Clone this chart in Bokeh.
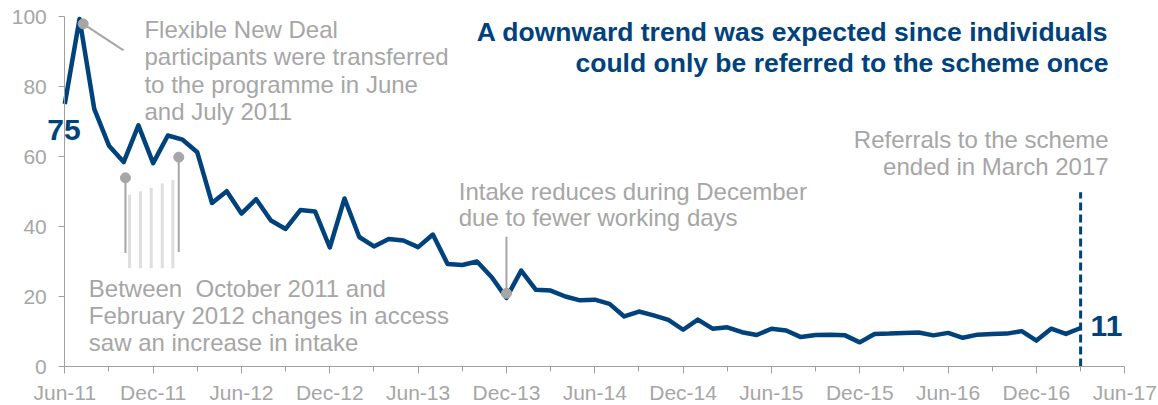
from bokeh.plotting import figure
from bokeh.models import Range1d, FixedTicker, Label
from bokeh.embed import file_html
from bokeh.resources import INLINE

# ---- data ----
tick_labels = ["Jun-11", "Dec-11", "Jun-12", "Dec-12", "Jun-13", "Dec-13", "Jun-14",
               "Dec-14", "Jun-15", "Dec-15", "Jun-16", "Dec-16", "Jun-17"]
tick_months = [0, 6, 12, 18, 24, 30, 36, 42, 48, 54, 60, 66, 72]
minor_months = [3, 9, 15, 21, 27, 33, 39, 45, 51, 57, 63, 69]
y_ticks = [0, 20, 40, 60, 80, 100]

month_index = list(range(70))  # Jun-11 ... Mar-17
referrals = [75.0, 99.3, 73.6, 63.1, 58.4, 68.9, 58.1, 66.0, 64.8, 61.2,
             46.7, 50.1, 43.7, 47.8, 41.7, 39.3, 44.7, 44.3, 34.0, 48.0,
             37.0, 34.3, 36.4, 36.0, 34.1, 37.7, 29.3, 29.0, 30.0, 25.5,
             19.6, 27.4, 21.9, 21.7, 20.0, 18.9, 19.1, 17.9, 14.3, 15.7,
             14.6, 13.3, 10.5, 13.4, 10.8, 11.2, 9.8, 9.0, 10.8, 10.3,
             8.4, 9.0, 9.1, 8.9, 6.9, 9.3, 9.4, 9.6, 9.7, 8.9,
             9.6, 8.2, 9.1, 9.3, 9.4, 10.1, 7.4, 10.8, 9.3, 11.0]
end_month = 69  # March 2017

title_lines = ["A downward trend was expected since individuals",
               "could only be referred to the scheme once"]
fnd_lines = ["Flexible New Deal", "participants were transferred",
             "to the programme in June", "and July 2011"]
access_lines = ["Between\u00a0 October 2011 and", "February 2012 changes in access",
                "saw an increase in intake"]
dec_lines = ["Intake reduces during December", "due to fewer working days"]
end_lines = ["Referrals to the scheme", "ended in March 2017"]

# ---- styles ----
BLUE = "#00427c"
GRAY = "#a6a6a6"
AXIS = "#a0a0a0"
LIGHT = "#dedede"
FONT = "Liberation Sans"

# frame covers the whole canvas; axes are pinned at x=0 / y=0 so nothing is clipped
X0 = -64.3 / 14.722
X1 = (1158 - 64.3) / 14.722
Y0 = -(405 - 366) / 3.5
Y1 = 366 / 3.5

p = figure(width=1158, height=405, x_range=Range1d(X0, X1), y_range=Range1d(Y0, Y1),
           output_backend="svg", toolbar_location=None,
           min_border_left=0, min_border_right=0, min_border_top=0, min_border_bottom=0)
p.xgrid.visible = False
p.ygrid.visible = False
p.outline_line_color = None
p.background_fill_color = "white"
p.border_fill_color = "white"

xa = p.xaxis[0]
xa.ticker = FixedTicker(ticks=tick_months, minor_ticks=minor_months)
xa.major_label_overrides = {m: l for m, l in zip(tick_months, tick_labels)}
xa.bounds = (0, 72)
xa.fixed_location = 0
ya = p.yaxis[0]
ya.ticker = FixedTicker(ticks=y_ticks)
ya.fixed_location = 0
ya.bounds = (0, 100)
for ax in (xa, ya):
    ax.axis_line_color = AXIS
    ax.axis_line_width = 1
    ax.major_tick_line_color = AXIS
    ax.minor_tick_line_color = AXIS
    ax.major_tick_in = 0
    ax.minor_tick_in = 0
    ax.major_label_text_color = GRAY
    ax.major_label_text_font = FONT
    ax.major_label_text_font_size = "21px"
xa.major_tick_out = 7
xa.minor_tick_out = 5
xa.major_label_standoff = 7
ya.major_tick_out = 6
ya.minor_tick_line_color = None
ya.major_label_standoff = 12

# main series
p.line(month_index, referrals, line_color=BLUE, line_width=4.5, line_join="round")

# end of referrals dashed line
p.segment(x0=[end_month], y0=[0], x1=[end_month], y1=[49.8],
          line_color=BLUE, line_width=3, line_dash="8 4")

# annotation furniture
p.segment(x0=[1.25], y0=[97.9], x1=[3.99], y1=[90.3], line_color=GRAY, line_width=2)
stripe_x = [4.4, 5.14, 5.87, 6.62, 7.34]
stripe_top = [49.1, 50.1, 51.1, 52.3, 53.3]
p.segment(x0=stripe_x, y0=[28.1] * 5, x1=stripe_x, y1=stripe_top,
          line_color=LIGHT, line_width=3)
p.segment(x0=[4.12, 7.74, 30.0], y0=[53.9, 59.8, 20.9], x1=[4.12, 7.74, 30.0],
          y1=[32.4, 32.7, 37.1], line_color=GRAY, line_width=2)
p.scatter([1.25, 4.12, 7.74, 30.0], [97.9, 53.9, 59.8, 20.9], size=10,
          fill_color=GRAY, line_color=GRAY)


def add_lines(lines, x, ys, color, size, align, shift, bold=False):
    for t, y in zip(lines, ys):
        p.add_layout(Label(x=x, y=y, text=t, text_color=color, text_font=FONT,
                           text_font_size=f"{size}px", text_align=align,
                           text_baseline="alphabetic", y_offset=shift,
                           text_font_style="bold" if bold else "normal"))


add_lines(title_lines, 70.9, [93.1, 84.1], BLUE, 26.5, "right", 9, bold=True)
add_lines(end_lines, 70.9, [62.66, 55.06], GRAY, 24, "right", 7.5)
add_lines(fnd_lines, 5.41, [94.1, 86.3, 78.5, 70.7], GRAY, 24, "left", 7.5)
add_lines(dec_lines, 26.76, [48.0, 40.3], GRAY, 24, "left", 7.5)
add_lines(access_lines, 1.63, [20.1, 12.3, 4.6], GRAY, 24, "left", 7.5)

# value labels for first and last points
p.add_layout(Label(x=month_index[0], y=referrals[0], text=f"{referrals[0]:.0f}",
                   x_offset=-17.6, y_offset=-25.6, text_color=BLUE,
                   text_font=FONT, text_font_size="30px", text_font_style="bold",
                   text_align="left", text_baseline="alphabetic"))
p.add_layout(Label(x=month_index[-1], y=referrals[-1], text=f"{referrals[-1]:.0f}",
                   x_offset=10, y_offset=1.8, text_color=BLUE,
                   text_font=FONT, text_font_size="30px", text_font_style="bold",
                   text_align="left", text_baseline="alphabetic"))

open("out.html", "w").write(file_html(p, INLINE))
